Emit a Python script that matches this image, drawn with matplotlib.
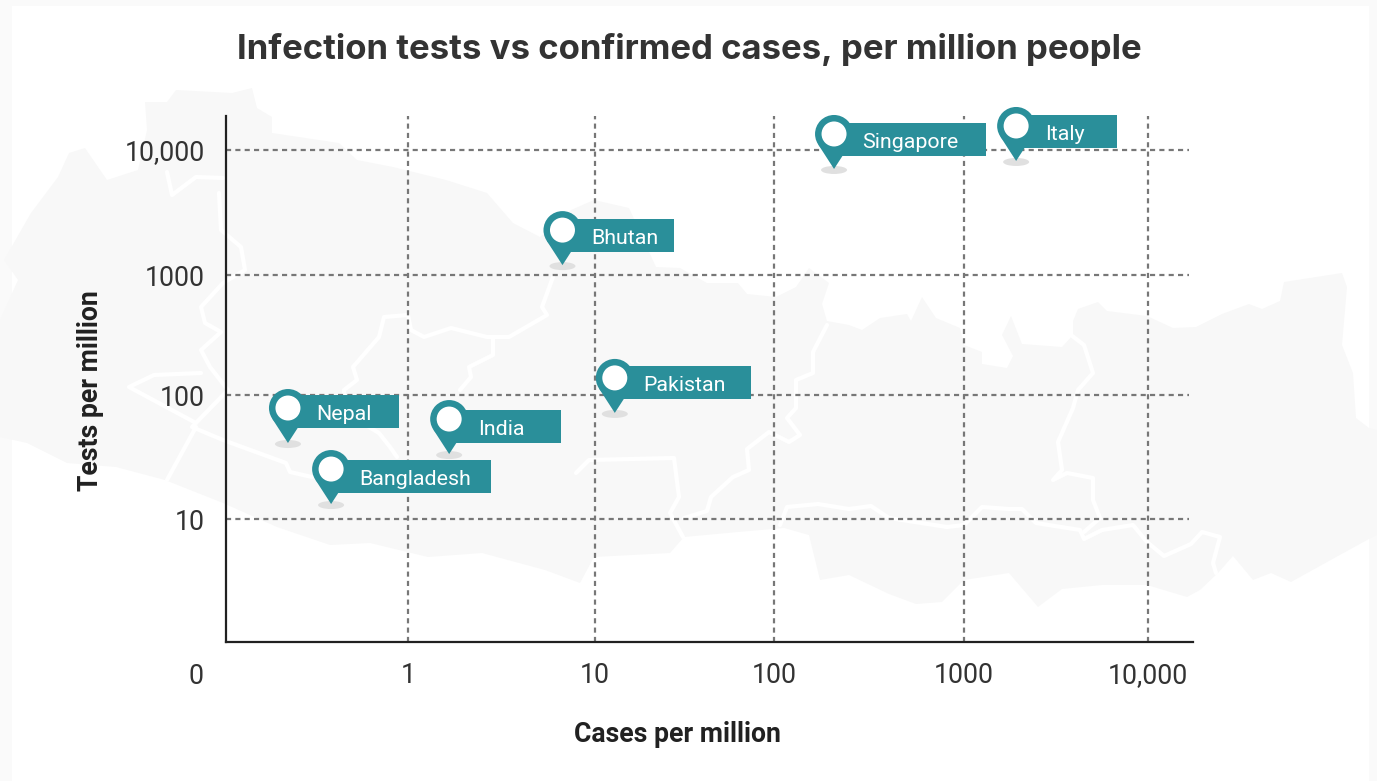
import numpy as np
import matplotlib
matplotlib.use("Agg")
import matplotlib.pyplot as plt
from matplotlib.patches import Circle, Ellipse, Polygon, Rectangle
from matplotlib.transforms import IdentityTransform

countries = ["Nepal", "Bangladesh", "India", "Bhutan", "Pakistan", "Singapore", "Italy"]
cases_per_million = [0.219, 0.378, 1.66, 6.7, 12.9, 207, 1920]
tests_per_million = [41, 13.2, 33.4, 1200, 71.7, 7050, 8170]

x_ticks = [1, 10, 100, 1000, 10000]
x_labels = ["1", "10", "100", "1000", "10,000"]
y_ticks = [10, 100, 1000, 10000]
y_labels = ["10", "100", "1000", "10,000"]

# faint map behind the chart, picture pixels
map_outline = [(0, 320), (18, 280), (4, 260), (31, 213), (58, 177), (69, 153), (85, 148), (107, 180),
               (138, 170), (147, 130), (145, 102), (167, 102), (176, 90), (232, 93), (252, 88), (257, 108),
               (272, 117), (272, 133), (339, 143), (357, 160), (393, 167), (446, 180), (487, 193), (513, 223),
               (540, 237), (571, 210), (594, 200), (629, 208), (656, 267), (680, 268), (707, 283), (738, 283),
               (747, 294), (776, 297), (796, 287), (809, 268), (829, 283), (822, 304), (827, 321), (849, 325),
               (862, 330), (880, 318), (907, 314), (911, 321), (922, 297), (936, 318), (960, 328), (964, 345),
               (982, 352), (982, 364), (1007, 368), (1013, 356), (1002, 335), (1011, 316), (1022, 344),
               (1062, 347), (1073, 335), (1073, 321), (1078, 309), (1098, 302), (1107, 311), (1147, 316),
               (1173, 328), (1196, 327), (1222, 314), (1249, 304), (1262, 309), (1280, 301), (1284, 282),
               (1342, 273), (1347, 287), (1342, 345), (1353, 373), (1356, 418), (1369, 428), (1377, 430),
               (1377, 535), (1369, 539), (1338, 556), (1291, 582), (1271, 573), (1253, 580), (1233, 556),
               (1218, 573), (1200, 590), (1187, 597), (1147, 585), (1102, 585), (1062, 589), (1038, 607),
               (1009, 573), (964, 580), (942, 602), (916, 604), (889, 594), (849, 575), (820, 580), (809, 535),
               (784, 528), (738, 532), (684, 537), (670, 553), (594, 557), (580, 583), (545, 570), (482, 553),
               (428, 557), (370, 543), (330, 545), (277, 527), (223, 503), (165, 480), (116, 467), (67, 463),
               (27, 443), (0, 437)]
map_borders = [
    [(167, 172), (172, 195), (196, 177), (223, 178)],
    [(219, 193), (221, 230), (241, 247), (245, 270), (223, 283), (201, 307), (205, 323), (221, 332), (201, 350),
     (210, 367), (228, 390), (192, 427), (223, 440), (286, 463), (290, 472), (312, 477)],
    [(196, 423), (129, 387), (154, 375), (201, 373)],
    [(196, 427), (167, 480)],
    [(553, 277), (542, 307), (547, 315), (509, 337), (487, 337), (451, 328), (424, 337), (411, 330), (408, 315),
     (384, 317), (379, 337), (353, 367), (357, 380), (344, 390), (344, 412), (379, 433), (390, 447), (397, 457)],
    [(493, 338), (493, 355), (469, 367), (471, 377), (460, 390)],
    [(576, 473), (589, 460), (674, 458), (679, 497), (670, 513), (683, 537)],
    [(827, 325), (813, 352), (813, 373), (796, 380), (796, 408), (787, 418), (800, 435), (789, 442), (769, 432),
     (747, 449), (749, 470), (733, 477), (711, 497), (707, 511), (684, 518)],
    [(1071, 335), (1084, 345), (1093, 373), (1078, 390), (1073, 408), (1058, 442), (1062, 470), (1053, 480),
     (1067, 473), (1093, 478), (1093, 500), (1100, 518), (1084, 532)],
    [(780, 525), (787, 507), (818, 504), (849, 509), (871, 506), (889, 518), (947, 527), (964, 525), (982, 507),
     (1009, 509), (1022, 509), (1036, 523), (1080, 530), (1084, 539), (1102, 530), (1133, 525), (1147, 542),
     (1164, 556), (1191, 544), (1202, 532), (1220, 537), (1213, 563), (1216, 573)],
]

TEAL = "#2a8f9a"
INK = "#212121"
H = 781

# flag size per pin: width, height of its lower edge above the tip
flag_style = {"Nepal": (111, 15), "Bangladesh": (160, 11), "India": (112, 11), "Bhutan": (112, 13),
              "Pakistan": (136, 14), "Singapore": (152, 13), "Italy": (101, 13)}


def piecewise(stops, pixels):
    stops = np.array(stops, dtype=float)
    pixels = np.array(pixels, dtype=float)

    def forward(v):
        return np.interp(np.log10(np.maximum(v, 1e-6)), stops, pixels)

    def inverse(p):
        return 10 ** np.interp(p, pixels, stops)

    return forward, inverse


def draw_pin(ax, x, y, label):
    px, py = ax.transData.transform((x, y))
    flag_w, lift = flag_style[label]
    tf = IdentityTransform()
    r = 19.0
    d = 35.0
    ang = np.arccos(r / d)
    tl = (px - r * np.sin(ang), py + d - r * np.cos(ang))
    tr = (px + r * np.sin(ang), py + d - r * np.cos(ang))
    ax.add_patch(Ellipse((px, py - 1), 26, 8, color="#e0e0e0", lw=0, transform=tf, zorder=4, clip_on=False))
    ax.add_patch(Rectangle((px, py + lift), flag_w, 33, color=TEAL, lw=0, transform=tf, zorder=5, clip_on=False))
    ax.add_patch(Polygon([(px, py), tl, tr], color=TEAL, lw=0, transform=tf, zorder=5, clip_on=False))
    ax.add_patch(Circle((px, py + d), r, color=TEAL, lw=0, transform=tf, zorder=5, clip_on=False))
    ax.add_patch(Circle((px, py + d), 12.5, color="white", lw=0, transform=tf, zorder=6, clip_on=False))
    ax.text(px + 28.5, py + lift + 15.5, label, color="white", fontsize=15.4, family="Roboto", ha="left",
            va="center_baseline", transform=tf, zorder=7, clip_on=False)


fig = plt.figure(figsize=(13.77, 7.81), dpi=100, facecolor="#fafafa")

bg = fig.add_axes([0, 0, 1, 1])
bg.set_xlim(0, 1377)
bg.set_ylim(781, 0)
bg.axis("off")
bg.add_patch(Rectangle((12, 6), 1357, 775, color="white", lw=0))
bg.add_patch(Polygon(map_outline, closed=True, color="#f8f8f8", lw=0))
for line in map_borders:
    xs, ys = zip(*line)
    bg.plot(xs, ys, color="white", lw=3, solid_joinstyle="round", solid_capstyle="round")

ax = fig.add_axes([226 / 1377, (H - 642) / H, (1193 - 226) / 1377, (642 - 116) / H])
ax.patch.set_visible(False)
ax.set_xscale("function", functions=piecewise([-1, 0, 1, 2, 3, 4, 4.245], [226, 408, 595, 774, 964, 1148, 1193]))
ax.set_yscale("function", functions=piecewise([0, 1, 2, 3, 4, 4.272],
                                              [H - 642, H - 519, H - 395, H - 275, H - 150, H - 116]))
ax.set_xlim(0.1, 10 ** 4.245)
ax.set_ylim(1, 10 ** 4.272)

ax.set_xticks(x_ticks, x_labels)
ax.set_yticks(y_ticks, y_labels)
ax.minorticks_off()
ax.tick_params(axis="both", length=0, labelsize=19.3, labelcolor="#333333")
ax.tick_params(axis="x", pad=14.5)
ax.tick_params(axis="y", pad=15)
for lab in ax.get_xticklabels() + ax.get_yticklabels():
    lab.set_family("Roboto")

ax.spines[["top", "right"]].set_visible(False)
ax.spines[["left", "bottom"]].set_linewidth(1.6)
ax.spines[["left", "bottom"]].set_color(INK)

dash = (0, (2.3, 1.9))
ax.vlines(x_ticks, 1, 10 ** 4.272, color="#777777", lw=1.6, linestyles=[dash], zorder=2)
ax.hlines(y_ticks, 0.1, 10 ** 4.222, color="#777777", lw=1.6, linestyles=[dash], zorder=2)

ax.annotate("0", xy=(0.1, 1), xytext=(-30 * 0.72, -32 * 0.72), textcoords="offset points", ha="center",
            va="center_baseline", fontsize=19.3, family="Roboto", color="#333333", annotation_clip=False)

fig.canvas.draw()
for name, cx, cy in zip(countries, cases_per_million, tests_per_million):
    draw_pin(ax, cx, cy, name)

fig.text(689 / 1377, 1 - 49 / H, "Infection tests vs confirmed cases, per million people", ha="center", va="center",
         fontsize=25, family="Inter", fontweight="bold", color="#333333")
fig.text(677 / 1377, 1 - 735 / H, "Cases per million", ha="center", va="center", fontsize=19.2, family="Roboto",
         fontweight="bold", color=INK)
fig.text(90 / 1377, 1 - 391 / H, "Tests per million", ha="center", va="center", rotation=90, fontsize=19.2,
         family="Roboto", fontweight="bold", color=INK)

fig.savefig("out.png", dpi=100, facecolor=fig.get_facecolor())
